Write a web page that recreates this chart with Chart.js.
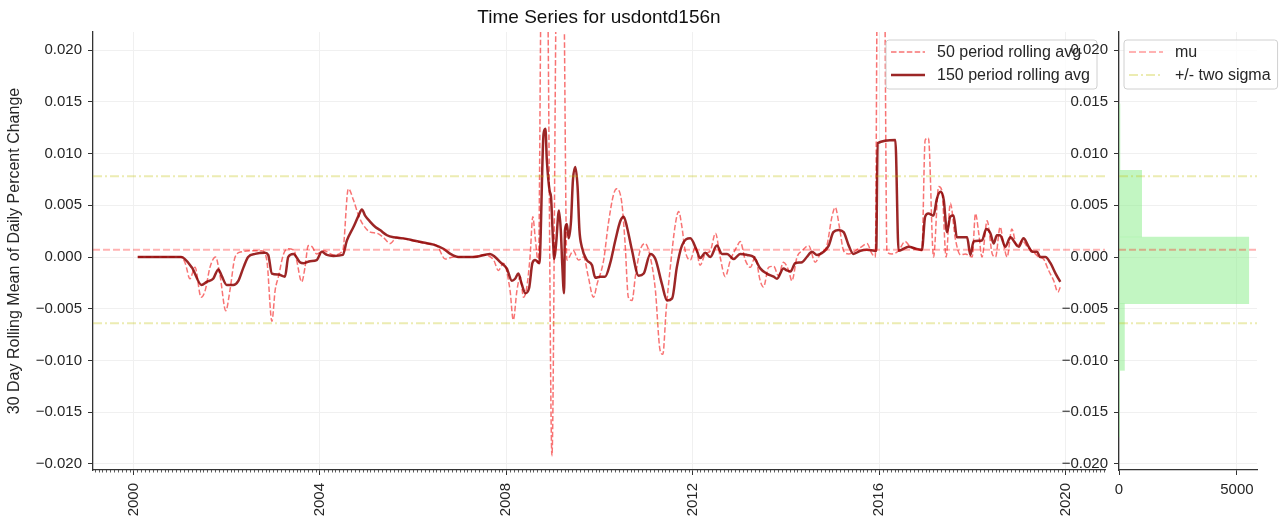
<!DOCTYPE html>
<html>
<head>
<meta charset="utf-8">
<title>Time Series for usdontd156n</title>
<script src="https://cdn.jsdelivr.net/npm/chart.js@4.4.1/dist/chart.umd.min.js"></script>
<style>
  body { margin: 0; background: #fff; }
  #wrap { position: relative; width: 1285px; height: 524px; overflow: hidden; }
  #main { position: absolute; left: 0; top: 0; }
  #hist { position: absolute; left: 1060px; top: 0; }
</style>
</head>
<body>
<div id="wrap">
  <canvas id="main" width="1110" height="524"></canvas>
  <canvas id="hist" width="225" height="524"></canvas>
</div>
<script>
// 150 period rolling average (decimal year, value)
const years150 = [2000.09, 2001.02, 2001.25, 2001.46, 2001.57, 2001.71, 2001.82, 2001.89, 2002.00, 2002.14,
  2002.25, 2002.36, 2002.46, 2002.61, 2002.82, 2002.89, 2002.97, 2003.11, 2003.25, 2003.32,
  2003.43, 2003.57, 2003.65, 2003.79, 2003.93, 2004.04, 2004.15, 2004.29, 2004.49, 2004.58,
  2004.72, 2004.83, 2004.90, 2004.97, 2005.08, 2005.19, 2005.29, 2005.44, 2005.58, 2005.79,
  2006.01, 2006.22, 2006.44, 2006.65, 2006.80, 2006.97, 2007.30, 2007.65, 2007.76, 2007.87,
  2008.01, 2008.12, 2008.19, 2008.26, 2008.33, 2008.41, 2008.49, 2008.56, 2008.62, 2008.71,
  2008.80, 2008.84, 2008.87, 2008.93, 2008.96, 2009.00, 2009.03, 2009.07, 2009.13, 2009.17,
  2009.20, 2009.24, 2009.26, 2009.30, 2009.34, 2009.39, 2009.43, 2009.48, 2009.53, 2009.57,
  2009.62, 2009.73, 2009.84, 2009.91, 2010.02, 2010.12, 2010.23, 2010.34, 2010.45, 2010.52,
  2010.59, 2010.70, 2010.84, 2010.95, 2011.09, 2011.20, 2011.34, 2011.45, 2011.56, 2011.66,
  2011.77, 2011.95, 2012.09, 2012.16, 2012.27, 2012.38, 2012.52, 2012.63, 2012.74, 2012.88,
  2013.02, 2013.17, 2013.31, 2013.45, 2013.59, 2013.74, 2013.81, 2013.95, 2014.02, 2014.10,
  2014.20, 2014.35, 2014.45, 2014.56, 2014.67, 2014.81, 2014.92, 2015.02, 2015.13, 2015.24,
  2015.35, 2015.45, 2015.60, 2015.74, 2015.94, 2015.97, 2016.35, 2016.42, 2016.53, 2016.64,
  2016.78, 2016.92, 2016.99, 2017.06, 2017.17, 2017.24, 2017.32, 2017.39, 2017.46, 2017.53,
  2017.60, 2017.67, 2017.89, 2017.96, 2018.03, 2018.21, 2018.30, 2018.39, 2018.46, 2018.53,
  2018.60, 2018.71, 2018.82, 2018.93, 2019.00, 2019.10, 2019.21, 2019.29, 2019.39, 2019.46,
  2019.57, 2019.68, 2019.79, 2019.89];
const avg150 = [0.0000, 0.0000, -0.0010, -0.0027, -0.0024, -0.0021, -0.0012, -0.0018, -0.0027, -0.0027,
  -0.0023, -0.0010, 0.0000, 0.0003, 0.0004, 0.0002, -0.0016, -0.0017, -0.0019, 0.0000,
  0.0003, -0.0005, -0.0006, -0.0004, -0.0003, 0.0005, 0.0002, 0.0001, 0.0002, 0.0016,
  0.0029, 0.0040, 0.0046, 0.0040, 0.0034, 0.0029, 0.0026, 0.0021, 0.0019, 0.0018,
  0.0016, 0.0014, 0.0012, 0.0008, 0.0003, 0.0000, 0.0000, 0.0003, 0.0000, -0.0005,
  -0.0011, -0.0023, -0.0021, -0.0016, -0.0026, -0.0035, -0.0030, -0.0006, -0.0003, -0.0006,
  0.0119, 0.0124, 0.0094, 0.0064, 0.0058, 0.0019, -0.0002, 0.0013, 0.0045, 0.0026,
  -0.0006, -0.0035, 0.0026, 0.0032, 0.0018, 0.0035, 0.0074, 0.0087, 0.0068, 0.0026,
  0.0010, -0.0003, -0.0008, -0.0020, -0.0019, -0.0019, -0.0006, 0.0016, 0.0035, 0.0039,
  0.0029, 0.0006, -0.0018, -0.0016, 0.0003, -0.0002, -0.0026, -0.0042, -0.0040, -0.0010,
  0.0011, 0.0018, 0.0006, -0.0001, 0.0004, 0.0000, 0.0011, 0.0003, 0.0003, -0.0002,
  0.0003, 0.0002, 0.0000, -0.0011, -0.0016, -0.0019, -0.0021, -0.0011, -0.0013, -0.0014,
  -0.0006, -0.0005, 0.0000, 0.0005, 0.0002, 0.0005, 0.0011, 0.0024, 0.0026, 0.0024,
  0.0011, 0.0003, 0.0006, 0.0007, 0.0006, 0.0110, 0.0113, 0.0006, 0.0008, 0.0010,
  0.0008, 0.0007, 0.0039, 0.0042, 0.0040, 0.0056, 0.0063, 0.0055, 0.0024, 0.0039,
  0.0040, 0.0019, 0.0019, 0.0002, 0.0015, 0.0016, 0.0027, 0.0023, 0.0013, 0.0021,
  0.0021, 0.0010, 0.0019, 0.0013, 0.0010, 0.0018, 0.0010, 0.0005, 0.0005, 0.0000,
  0.0000, -0.0006, -0.0016, -0.0024];

// 50 period rolling average (decimal year, value)
const years50 = [2000.09, 2001.02, 2001.11, 2001.21, 2001.32, 2001.45, 2001.54, 2001.64, 2001.76, 2001.86,
  2001.98, 2002.07, 2002.18, 2002.32, 2002.54, 2002.75, 2002.86, 2002.97, 2003.04, 2003.11,
  2003.22, 2003.32, 2003.45, 2003.50, 2003.61, 2003.68, 2003.75, 2003.83, 2003.93, 2004.08,
  2004.29, 2004.49, 2004.61, 2004.72, 2004.83, 2004.93, 2005.08, 2005.22, 2005.36, 2005.51,
  2005.65, 2005.87, 2006.08, 2006.30, 2006.51, 2006.69, 2006.87, 2007.22, 2007.51, 2007.73,
  2007.83, 2007.94, 2008.08, 2008.15, 2008.23, 2008.30, 2008.37, 2008.44, 2008.51, 2008.57,
  2008.62, 2008.69, 2008.76, 2008.87, 2008.98, 2009.09, 2009.22, 2009.30, 2009.44, 2009.55,
  2009.66, 2009.76, 2009.87, 2009.95, 2010.09, 2010.19, 2010.30, 2010.37, 2010.48, 2010.55,
  2010.62, 2010.70, 2010.77, 2010.87, 2010.98, 2011.09, 2011.20, 2011.30, 2011.36, 2011.43,
  2011.52, 2011.63, 2011.70, 2011.77, 2011.84, 2011.95, 2012.06, 2012.16, 2012.27, 2012.38,
  2012.49, 2012.59, 2012.70, 2012.81, 2012.95, 2013.02, 2013.13, 2013.24, 2013.34, 2013.45,
  2013.52, 2013.63, 2013.74, 2013.84, 2013.95, 2014.06, 2014.13, 2014.24, 2014.35, 2014.49,
  2014.63, 2014.74, 2014.88, 2014.99, 2015.06, 2015.15, 2015.24, 2015.35, 2015.49, 2015.63,
  2015.74, 2015.85, 2015.92, 2015.97, 2016.11, 2016.17, 2016.28, 2016.42, 2016.56, 2016.67,
  2016.82, 2016.92, 2016.99, 2017.06, 2017.17, 2017.28, 2017.35, 2017.44, 2017.53, 2017.64,
  2017.75, 2017.85, 2018.00, 2018.07, 2018.14, 2018.21, 2018.32, 2018.43, 2018.50, 2018.60,
  2018.67, 2018.75, 2018.85, 2018.96, 2019.07, 2019.18, 2019.29, 2019.43, 2019.53, 2019.64,
  2019.75, 2019.84, 2019.89];
const avg50 = [0.0000, 0.0000, -0.0006, -0.0021, -0.0010, -0.0039, -0.0032, -0.0010, 0.0000, -0.0019,
  -0.0052, -0.0032, 0.0000, 0.0005, 0.0006, 0.0006, -0.0003, -0.0062, -0.0032, -0.0019,
  0.0003, 0.0008, 0.0006, -0.0003, -0.0024, -0.0010, 0.0011, 0.0010, 0.0003, 0.0006,
  0.0002, 0.0006, 0.0066, 0.0055, 0.0040, 0.0031, 0.0024, 0.0023, 0.0019, 0.0013,
  0.0019, 0.0017, 0.0015, 0.0013, 0.0011, -0.0002, 0.0000, 0.0000, 0.0002, -0.0003,
  -0.0013, -0.0006, -0.0032, -0.0061, -0.0032, -0.0019, -0.0039, -0.0029, 0.0000, 0.0039,
  0.0019, -0.0006, 0.0300, 0.0300, -0.0192, 0.0300, 0.0300, -0.0003, 0.0006, -0.0003,
  0.0000, -0.0019, -0.0039, -0.0026, -0.0003, 0.0032, 0.0060, 0.0066, 0.0052, 0.0013,
  -0.0039, -0.0042, -0.0019, 0.0006, 0.0013, 0.0000, -0.0032, -0.0090, -0.0094, -0.0052,
  -0.0010, 0.0032, 0.0044, 0.0029, 0.0006, -0.0003, 0.0010, -0.0008, 0.0003, 0.0006,
  0.0023, 0.0000, -0.0019, -0.0003, 0.0010, 0.0015, -0.0003, -0.0010, 0.0000, -0.0023,
  -0.0029, -0.0010, -0.0009, -0.0018, -0.0005, -0.0013, -0.0023, 0.0000, 0.0006, 0.0011,
  -0.0005, 0.0003, 0.0011, 0.0039, 0.0048, 0.0029, 0.0006, 0.0003, 0.0006, 0.0010,
  0.0013, 0.0003, 0.0000, 0.0300, 0.0300, 0.0005, 0.0003, 0.0006, 0.0015, 0.0010,
  0.0008, 0.0006, 0.0113, 0.0115, 0.0000, 0.0068, 0.0064, 0.0000, 0.0052, 0.0017,
  0.0002, 0.0003, 0.0000, 0.0042, 0.0023, 0.0000, 0.0035, 0.0003, 0.0000, 0.0029,
  0.0013, 0.0000, 0.0027, 0.0010, 0.0016, 0.0010, 0.0006, 0.0000, -0.0002, -0.0013,
  -0.0023, -0.0034, -0.0029];

// mean and +/- two sigma bands
const mu = 0.0007;
const sigmaUpper = 0.0078;
const sigmaLower = -0.0064;

// histogram of the series (bin edges, counts per bin)
const histEdges = [-0.01739, -0.01095, -0.00451, 0.00193, 0.00837, 0.01481];
const histCounts = [10, 230, 5500, 960, 40];

// tick labels
const xTickYears = [2000, 2004, 2008, 2012, 2016, 2020];
const yTicks = [-0.020, -0.015, -0.010, -0.005, 0.000, 0.005, 0.010, 0.015, 0.020];
const histXTicks = [0, 5000];

const Y_MIN = -0.02058, Y_MAX = 0.02174;
const X_MIN = 1999.13, X_MAX = 2020.85;
const HIST_MAX = 5850;

const FONT = "'Liberation Sans', Arial, Helvetica, sans-serif";
const TEXT = '#262626';
const AXIS = '#333333';
const GRID = '#f0f0f0';

const C_SHORT = 'rgba(245, 40, 40, 0.65)';
const C_LONG = 'rgba(139, 0, 0, 0.85)';
const C_MU = 'rgba(255, 0, 0, 0.3)';
const C_SIGMA = 'rgba(191, 191, 0, 0.3)';
const C_HIST = 'rgba(144, 238, 144, 0.55)';

const DASH_SHORT = [5.5, 2.4];
const DASH_MU = [7, 3];
const DASH_SIGMA = [9, 3, 2, 3];

Chart.defaults.font.family = FONT;
Chart.defaults.color = TEXT;

function fmtY(v) {
  return (v < 0 ? '\u2212' : '') + Math.abs(v).toFixed(3);
}

function toPoints(xs, ys) {
  return xs.map((x, i) => ({ x: x, y: ys[i] }));
}

// horizontal reference lines (mu, two sigma) across the plot area
const refLines = {
  id: 'refLines',
  afterDatasetsDraw(chart, args, opts) {
    const { ctx, chartArea: a, scales } = chart;
    const y = scales.y;
    ctx.save();
    ctx.beginPath();
    ctx.rect(a.left, a.top, a.width, a.height);
    ctx.clip();
    opts.lines.forEach(l => {
      const py = y.getPixelForValue(l.value);
      ctx.strokeStyle = l.color;
      ctx.lineWidth = l.width;
      ctx.setLineDash(l.dash);
      ctx.beginPath();
      ctx.moveTo(a.left, py);
      ctx.lineTo(a.right, py);
      ctx.stroke();
    });
    ctx.restore();
  }
};

// framed legend with line samples
const boxLegend = {
  id: 'boxLegend',
  afterDraw(chart, args, opts) {
    const { ctx, chartArea: a } = chart;
    ctx.save();
    ctx.font = '16px ' + FONT;
    const textW = Math.max(...opts.items.map(it => ctx.measureText(it.label).width));
    const w = 5 + 34 + 12 + textW + 7;
    const h = 49;
    const x = opts.side === 'right' ? a.right - 8 - w : a.left + 5;
    const y = a.top + 8;
    const r = 3;
    ctx.beginPath();
    ctx.moveTo(x + r, y);
    ctx.arcTo(x + w, y, x + w, y + h, r);
    ctx.arcTo(x + w, y + h, x, y + h, r);
    ctx.arcTo(x, y + h, x, y, r);
    ctx.arcTo(x, y, x + w, y, r);
    ctx.closePath();
    ctx.fillStyle = 'rgba(255,255,255,0.8)';
    ctx.fill();
    ctx.strokeStyle = '#d0d0d0';
    ctx.lineWidth = 1;
    ctx.stroke();
    ctx.textBaseline = 'middle';
    ctx.textAlign = 'left';
    opts.items.forEach((it, i) => {
      const cy = y + 12 + i * 23;
      ctx.strokeStyle = it.color;
      ctx.lineWidth = it.width;
      ctx.setLineDash(it.dash);
      ctx.beginPath();
      ctx.moveTo(x + 5, cy);
      ctx.lineTo(x + 39, cy);
      ctx.stroke();
      ctx.fillStyle = TEXT;
      ctx.fillText(it.label, x + 51, cy + 1);
    });
    ctx.restore();
  }
};

// monthly minor ticks on the date axis
const minorTicks = {
  id: 'minorTicks',
  afterDraw(chart) {
    const { ctx, chartArea: a, scales } = chart;
    const x = scales.x;
    ctx.save();
    ctx.strokeStyle = AXIS;
    ctx.lineWidth = 0.8;
    ctx.beginPath();
    for (let m = Math.ceil(X_MIN * 12); m <= X_MAX * 12; m++) {
      if (m % 48 === 0) continue;
      const px = Math.round(x.getPixelForValue(m / 12)) + 0.5;
      ctx.moveTo(px, a.bottom);
      ctx.lineTo(px, a.bottom + 2.5);
    }
    ctx.stroke();
    ctx.restore();
  }
};

// chart title centred over the plot area
const plotTitle = {
  id: 'plotTitle',
  afterDraw(chart, args, opts) {
    const { ctx, chartArea: a } = chart;
    ctx.save();
    ctx.font = '19px ' + FONT;
    ctx.fillStyle = '#111';
    ctx.textAlign = 'center';
    ctx.textBaseline = 'alphabetic';
    ctx.fillText(opts.text, (a.left + a.right) / 2, 23);
    ctx.restore();
  }
};

const tickFont = { size: 15 };

new Chart(document.getElementById('main'), {
  type: 'line',
  data: {
    datasets: [
      {
        label: '150 period rolling avg',
        data: toPoints(years150, avg150),
        borderColor: C_LONG,
        borderWidth: 2.5,
        pointRadius: 0,
        cubicInterpolationMode: 'monotone',
        order: 0
      },
      {
        label: '50 period rolling avg',
        data: toPoints(years50, avg50),
        borderColor: C_SHORT,
        borderWidth: 1.5,
        borderDash: DASH_SHORT,
        pointRadius: 0,
        cubicInterpolationMode: 'monotone',
        order: 1
      }
    ]
  },
  options: {
    responsive: false,
    animation: false,
    layout: { padding: { top: 32, right: 5, left: 0, bottom: 0 } },
    plugins: {
      legend: { display: false },
      title: { display: false },
      tooltip: { enabled: false },
      plotTitle: { text: 'Time Series for usdontd156n' },
      refLines: {
        lines: [
          { value: mu, color: C_MU, width: 2, dash: DASH_MU },
          { value: sigmaUpper, color: C_SIGMA, width: 2, dash: DASH_SIGMA },
          { value: sigmaLower, color: C_SIGMA, width: 2, dash: DASH_SIGMA }
        ]
      },
      boxLegend: {
        side: 'right',
        items: [
          { label: '50 period rolling avg', color: C_SHORT, width: 1.5, dash: DASH_SHORT },
          { label: '150 period rolling avg', color: C_LONG, width: 2.5, dash: [] }
        ]
      }
    },
    scales: {
      x: {
        type: 'linear',
        min: X_MIN,
        max: X_MAX,
        afterBuildTicks: s => { s.ticks = xTickYears.map(v => ({ value: v })); },
        afterFit: s => { s.height = 54; },
        ticks: {
          autoSkip: false,
          minRotation: 90,
          maxRotation: 90,
          padding: 8,
          font: tickFont,
          color: TEXT,
          callback: v => String(v)
        },
        grid: { color: GRID, tickColor: AXIS, tickLength: 5, lineWidth: 1 },
        border: { color: AXIS, width: 1.3 }
      },
      y: {
        type: 'linear',
        min: Y_MIN,
        max: Y_MAX,
        afterBuildTicks: s => { s.ticks = yTicks.map(v => ({ value: v })); },
        afterFit: s => { s.width = 93; },
        ticks: { autoSkip: false, padding: 6, font: tickFont, color: TEXT, callback: v => fmtY(v) },
        grid: { color: GRID, tickColor: AXIS, tickLength: 5, lineWidth: 1 },
        border: { color: AXIS, width: 1.3 },
        title: {
          display: true,
          text: '30 Day Rolling Mean of Daily Percent Change',
          font: { size: 16 },
          color: TEXT,
          padding: { top: 5, bottom: 0 }
        }
      }
    }
  },
  plugins: [refLines, minorTicks, boxLegend, plotTitle]
});

// histogram bars sit between consecutive edges
const histCenters = histCounts.map((c, i) => {
  const lo = histEdges[i];
  const hi = i + 1 < histEdges.length ? histEdges[i + 1] : lo + (histEdges[1] - histEdges[0]);
  return (lo + hi) / 2;
});

new Chart(document.getElementById('hist'), {
  type: 'bar',
  data: {
    datasets: [{
      label: 'count',
      data: histCenters.map((c, i) => ({ x: histCounts[i], y: c })),
      backgroundColor: C_HIST,
      borderWidth: 0,
      barThickness: 'flex',
      barPercentage: 1,
      categoryPercentage: 1
    }]
  },
  options: {
    indexAxis: 'y',
    responsive: false,
    animation: false,
    layout: { padding: { top: 32, right: 28, left: 0, bottom: 0 } },
    plugins: {
      legend: { display: false },
      title: { display: false },
      tooltip: { enabled: false },
      refLines: {
        lines: [
          { value: mu, color: C_MU, width: 2, dash: DASH_MU },
          { value: sigmaUpper, color: C_SIGMA, width: 2, dash: DASH_SIGMA },
          { value: sigmaLower, color: C_SIGMA, width: 2, dash: DASH_SIGMA }
        ]
      },
      boxLegend: {
        side: 'left',
        items: [
          { label: 'mu', color: C_MU, width: 2, dash: DASH_MU },
          { label: '+/- two sigma', color: C_SIGMA, width: 2, dash: DASH_SIGMA }
        ]
      }
    },
    scales: {
      x: {
        type: 'linear',
        min: 0,
        max: HIST_MAX,
        afterBuildTicks: s => { s.ticks = histXTicks.map(v => ({ value: v })); },
        afterFit: s => { s.height = 54; },
        ticks: { autoSkip: false, maxRotation: 0, padding: 6, font: tickFont, color: TEXT, callback: v => String(v) },
        grid: { color: GRID, tickColor: AXIS, tickLength: 5, lineWidth: 1 },
        border: { color: AXIS, width: 1.3 }
      },
      y: {
        type: 'linear',
        min: Y_MIN,
        max: Y_MAX,
        offset: false,
        afterBuildTicks: s => { s.ticks = yTicks.map(v => ({ value: v })); },
        afterFit: s => { s.width = 59; },
        ticks: { autoSkip: false, padding: 6, font: tickFont, color: TEXT, callback: v => fmtY(v) },
        grid: { offset: false, color: GRID, tickColor: AXIS, tickLength: 5, lineWidth: 1 },
        border: { color: AXIS, width: 1.3 }
      }
    }
  },
  plugins: [refLines, boxLegend]
});
</script>
</body>
</html>
